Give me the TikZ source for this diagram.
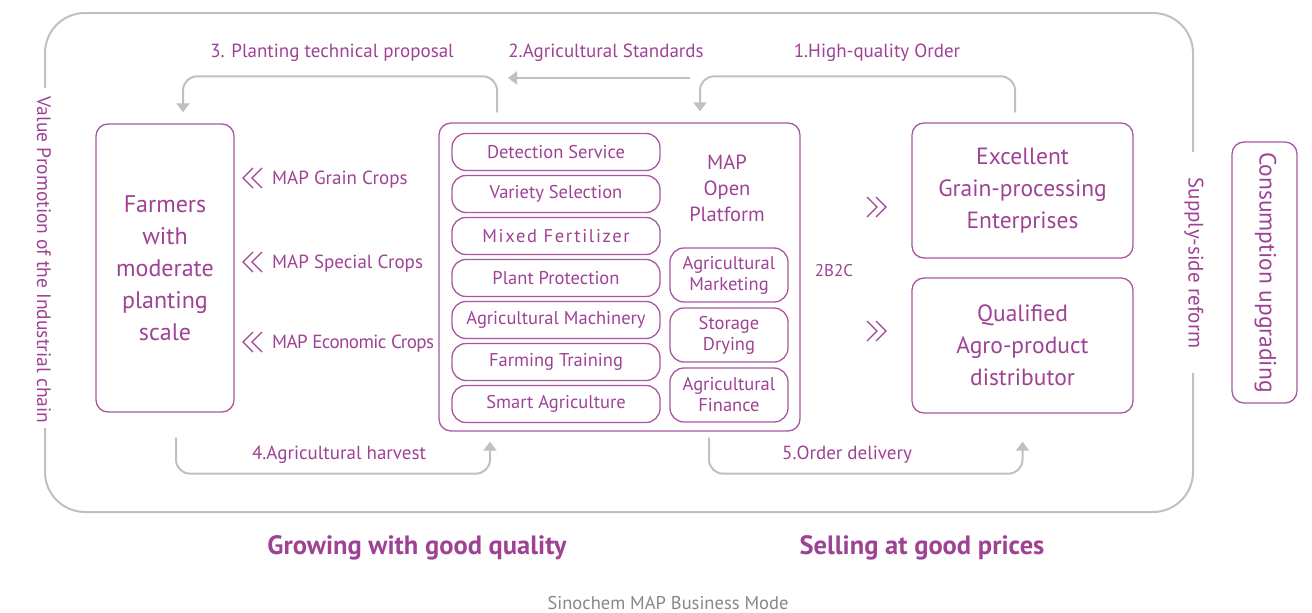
\documentclass[tikz,border=0pt]{standalone}
\usepackage{fontspec}
\setmainfont{PT Sans}
\usetikzlibrary{arrows.meta,calc}
\definecolor{pur}{RGB}{158,66,148}
\definecolor{pline}{RGB}{168,88,160}
\definecolor{gline}{RGB}{192,192,192}
\definecolor{capg}{RGB}{135,135,135}
\begin{document}
\begin{tikzpicture}[x=1pt,y=-1pt,
  txt/.style={text=pur, inner sep=0pt, align=center},
  fs/.style={font=\fontsize{#1}{#1}\selectfont},
  box/.style={draw=pline, line width=1.3pt, rounded corners=12pt, inner sep=0pt, align=center, text=pur},
  pill/.style={box, rounded corners=14pt, minimum width=208pt, minimum height=37pt, fs=18.5},
  sbox/.style={box, rounded corners=14pt, minimum width=118pt, minimum height=54pt, font=\fontsize{18.5}{21}\selectfont},
  gl/.style={draw=gline, line width=2pt, rounded corners=14pt},
  garrow/.style={gl, -{Triangle[length=9pt,width=13pt]}},
  chev/.style={draw=pur, line width=1.2pt},
]
\useasboundingbox (0,0) rectangle (1312,613);

% outer frame
\draw[gl, rounded corners=40pt] (45,88) -- (45,13) -- (1193,13) -- (1193,152);
\draw[gl, rounded corners=40pt] (1193,373) -- (1193,512) -- (45,512) -- (45,428);
\node[txt, fs=19.5, rotate=-90] (vp) at (44,260) {Value Promotion of the Industrial chain};
\node[txt, fs=21, rotate=-90] (ss) at (1194,263) {Supply-side reform};

% consumption box
\node[box, minimum width=65pt, minimum height=261pt] (cons) at (1264.5,272.5) {};
\node[txt, fs=23.5, rotate=-90] (consT) at ([xshift=1pt]cons.center) {Consumption upgrading};

% farmers
\node[box, minimum width=138pt, minimum height=288pt, font=\fontsize{24}{32}\selectfont] (farm) at (165,268)
  {Farmers\\with\\moderate\\planting\\scale};

% crop labels
\node[txt, fs=19, anchor=west] (c1) at (272,180) {MAP Grain Crops};
\node[txt, fs=19, anchor=west] (c2) at (272,264) {MAP Special Crops};
\node[txt, fs=19, anchor=west] (c3) at (272,344) {\addfontfeatures{LetterSpace=-3}MAP Economic Crops};
\foreach \yy in {178,262,342}{
  \draw[chev] (253,\yy-10) -- (243,\yy) -- (253,\yy+10);
  \draw[chev] (262,\yy-10) -- (252,\yy) -- (262,\yy+10);
}

% platform
\node[box, minimum width=361pt, minimum height=308pt] (map) at (619.5,277) {};
\node[pill] (p1) at (556,152) {Detection Service};
\node[pill] (p2) at (556,194) {Variety Selection};
\node[pill] (p3) at (556,236) {\addfontfeatures{LetterSpace=9}Mixed Fertilizer};
\node[pill] (p4) at (556,278) {Plant Protection};
\node[pill] (p5) at (556,320) {Agricultural Machinery};
\node[pill] (p6) at (556,362) {Farming Training};
\node[pill] (p7) at (556,404) {Smart Agriculture};
\node[txt, font=\fontsize{20.5}{26}\selectfont] (mapT) at (727,188) {MAP\\Open\\Platform};
\node[sbox] (s1) at (729,275) {Agricultural\\Marketing};
\node[sbox] (s2) at (729,335) {Storage\\Drying};
\node[sbox] (s3) at (729,395) {Agricultural\\Finance};

\node[txt, fs=17] (b2c) at (834,271) {2B2C};
\foreach \yy in {207,331}{
  \draw[chev] (867,\yy-10) -- (877,\yy) -- (867,\yy+10);
  \draw[chev] (876,\yy-10) -- (886,\yy) -- (876,\yy+10);
}

% right boxes
\node[box, minimum width=221pt, minimum height=135pt, font=\fontsize{23.5}{32}\selectfont] (exc) at (1022.5,190.5)
  {Excellent\\Grain-processing\\Enterprises};
\node[box, minimum width=221pt, minimum height=135pt, font=\fontsize{23.5}{32}\selectfont] (qual) at (1022.5,345.5)
  {Qualified\\Agro-product\\distributor};

% top flows
\node[txt, fs=19] (l3) at (332,53) {3. Planting technical proposal};
\node[txt, fs=19] (l2) at (606,53) {2.Agricultural Standards};
\node[txt, fs=19] (l1) at (877,53) {1.High-quality Order};
\draw[garrow] ($(map.north)+(-122.5,-10)$) |- ($(farm.north)+(18,-47)$) -- ($(farm.north)+(18,-11)$);
\coordinate (a2s) at (690,78);
\coordinate (a2e) at (508,78);
\draw[garrow] (a2s) -- (a2e);
\draw[garrow] ($(exc.north)+(-7.5,-10)$) |- ($(map.north)+(80.5,-46)$) -- ($(map.north)+(80.5,-11)$);

% bottom flows
\node[txt, fs=19] (l4) at (339,455) {4.Agricultural harvest};
\node[txt, fs=19] (l5) at (847,455) {5.Order delivery};
\draw[garrow] ($(farm.south)+(11,25)$) |- ($(map.south)+(-129.5,42)$) -- ($(map.south)+(-129.5,10)$);
\draw[garrow] ($(map.south)+(89.5,6)$) |- ($(qual.south)+(0,60)$) -- ($(qual.south)+(0,28)$);

% bottom titles
\node[txt, font=\fontsize{26.5}{26}\bfseries\selectfont] (grow) at (417,548) {Growing with good quality};
\node[txt, font=\fontsize{26.5}{26}\bfseries\selectfont] (sell) at (922,548) {Selling at good prices};
\node[txt, text=capg, fs=18.5] (capt) at (668,603) {Sinochem MAP Business Mode};
\end{tikzpicture}
\end{document}
